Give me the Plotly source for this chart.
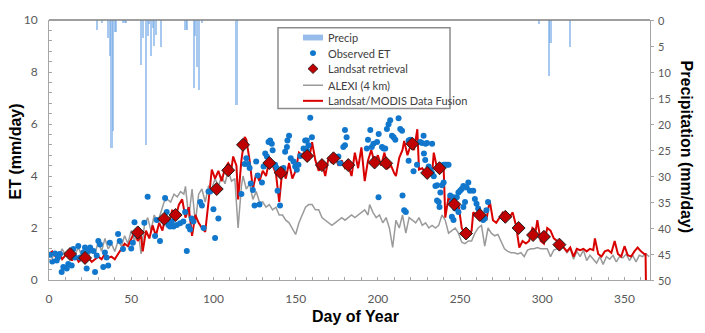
import plotly.graph_objects as go

# ---------------- data ----------------
precip_day = [29, 32, 36, 37, 38, 39, 40, 41, 45, 46, 47, 56, 57, 59, 60, 61, 62, 63, 64, 65, 68,
              83, 84, 88, 89, 90, 91, 93, 114, 298, 304, 305, 317]
precip_mm = [1.9, 0.6, 3.5, 7.0, 24.7, 21.3, 2.3, 2.3, 0.6, 0.6, 0.6, 8.7, 3.5, 24.0, 3.0, 0.8, 7.0, 1.5, 5.0, 2.9, 5.2,
             2.0, 2.0, 13.0, 3.0, 9.0, 13.5, 0.5, 16.3, 0.8, 10.8, 4.4, 5.2]

obs_day = [0.6, 2, 3.7, 4.7, 5.5, 6.7, 7.7, 8.7, 10.8, 11.7, 13.8, 14.8, 15.8, 17.8, 18.9, 20.9, 21.9, 22.9, 23.9, 25,
           27, 28, 29, 30, 31, 33, 34, 35, 36, 37, 42, 43, 45, 50, 51, 52, 53, 58, 60, 64.5, 65.5, 67.5, 70.6, 71.6,
           72.6, 73.6, 74.7, 75.7, 77.7, 79.7, 81.7, 82.8, 83.8, 84.8, 85.8, 86.8, 87.8, 92, 93, 94, 97, 98, 100, 101,
           103, 117, 119, 120, 121, 122, 122.7, 124, 125, 126, 127, 128, 129.5, 130.5, 131.5, 132.5, 133.5, 134.5,
           135.5, 136, 137.5, 138.5, 139, 140.5, 142.6, 143.6, 144.7, 145, 146, 147, 148.7, 149.7, 150.7, 151.7,
           152.8, 154.8, 155.8, 156.8, 157.8, 158.9, 159.9, 156.8, 176, 177, 179, 180, 181, 180, 193.3, 194, 195.4,
           196.3, 197.3, 199.5, 200.5, 200.4, 202.5, 203.5, 204.5, 205.5, 206.5, 207.5, 208.6, 209.6, 210.6, 212.6,
           213.6, 214.7, 215, 216, 217, 218.7, 219.7, 220.7, 225.8, 226.8, 227.8, 229.9, 218.7, 221.7, 223.8, 228.8,
           230.9, 231.9, 232.9, 234, 228, 229, 233, 235, 236, 238, 239, 240, 236, 237, 237.5, 240, 241, 242, 243,
           244, 245, 246, 246.5, 248, 249, 250, 251, 252, 253, 254, 255, 256, 258, 245, 246, 247, 249, 252, 259,
           260, 261, 262, 263, 264, 265, 264, 266, 267]
obs_et = [0.97, 0.71, 1.02, 0.75, 0.87, 1.0, 0.31, 0.5, 0.44, 0.62, 0.56, 1.19, 0.87, 1.31, 0.87, 1.06, 1.25, 0.44, 1.12,
          1.25, 1.12, 0.31, 0.94, 1.5, 1.37, 0.5, 1.06, 0.87, 0.56, 1.43, 1.77, 1.5, 1.19, 1.21, 1.43, 2.22, 1.75, 2.2,
          3.2, 1.69, 2.31, 1.5, 3.15, 2.62, 2.12, 2.06, 2.25, 2.06, 2.12, 2.18, 2.25, 2.62, 1.12, 2.06, 1.94, 2.37,
          2.25, 3.0, 2.87, 2.0, 3.4, 3.4, 2.72, 1.62, 2.37, 3.31, 4.46, 4.68, 4.46, 4.31, 3.71, 3.46, 2.87, 4.56,
          4.02, 2.9, 3.75, 4.37, 4.87, 4.75, 5.31, 5.37, 5.24, 4.99, 4.43, 4.31, 3.43, 2.87, 4.31, 4.93, 5.12, 5.37,
          5.55, 4.68, 4.56, 4.37, 4.24, 4.43, 4.77, 5.06, 5.37, 5.37, 5.18, 6.24, 5.49, 4.99, 4.75, 4.49, 5.12, 5.18,
          5.49, 5.77, 5.06, 5.39, 5.77, 5.12, 5.24, 5.31, 5.62, 3.18, 5.12, 5.06, 5.06, 5.81, 5.99, 6.14, 5.55, 5.49,
          5.39, 6.22, 5.81, 5.74, 3.25, 2.68, 2.62, 5.37, 5.39, 5.31, 5.31, 5.27, 5.55, 5.27, 4.59, 4.18, 4.43, 4.62,
          4.37, 4.24, 4.12, 3.99, 4.87, 5.24, 5.24, 3.62, 3.64, 3.37, 3.64, 3.75, 3.06, 3.0, 2.81, 4.43, 4.43, 4.43,
          4.43, 3.25, 3.0, 3.18, 3.0, 3.18, 3.37, 3.43, 3.5, 3.62, 3.0, 3.56, 3.75, 3.43, 3.43, 2.43, 2.31, 2.75,
          2.62, 2.81, 3.12, 2.93, 2.75, 2.56, 2.5, 2.43, 2.37, 2.31, 2.68, 3.0]

landsat_day = [12.8, 21.9, 54, 70, 77, 102, 109, 118, 134, 141, 157, 166, 173, 182, 198, 205, 221, 230, 237.5,
               246.5, 253.6, 262, 277.5, 285.6, 294.4, 301, 310.4]
landsat_et = [1.0, 0.85, 1.83, 2.35, 2.5, 3.5, 4.22, 5.2, 4.5, 4.12, 4.77, 4.42, 4.68, 4.42, 4.52, 4.49, 5.24,
              4.12, 4.3, 2.91, 1.79, 2.5, 2.43, 2.0, 1.73, 1.66, 1.36]

alexi_day = [0, 2, 4, 6, 8, 10, 12, 14, 16, 18, 20, 22, 24, 26, 28, 30, 32, 34, 36, 38, 40, 42, 44, 46, 48, 50, 52,
             54, 56, 58, 60, 62, 64, 66, 68, 70, 72, 74, 76, 78, 80, 82, 83, 85, 87, 89, 91, 93, 95, 97, 99, 101,
             103, 105, 107, 109, 111, 113, 115, 117, 118, 120, 122, 124, 126, 128, 130, 132, 134, 136, 138, 140,
             142, 144, 146, 148, 150, 152, 154, 156, 158, 160, 162, 164, 166, 168, 170, 172, 174, 176, 178, 180,
             182, 184, 186, 188, 190, 192, 194, 195, 197, 199, 201, 203, 205, 207, 209, 211, 213, 215, 217, 219,
             221, 223, 225, 227, 229, 231, 233, 235, 237, 239, 241, 243, 245, 247, 249, 251, 253, 255, 257, 259,
             261, 263, 265, 267, 269, 271, 273, 275, 277, 279, 281, 283, 285, 287, 289, 291, 293, 295, 297, 299,
             301, 303, 305, 307, 309, 311, 313, 315, 317, 319, 321, 323, 325, 327, 329, 331, 333, 335, 337, 339,
             341, 343, 345, 347, 349, 351, 353, 355, 357, 359, 361, 363, 365]
alexi_et = [1.0, 0.85, 1.1, 0.9, 1.2, 0.95, 1.15, 0.8, 1.0, 1.25, 0.9, 1.1, 0.85, 1.3, 1.0, 1.5, 1.1, 1.6, 1.2, 1.4,
            1.1, 1.5, 1.3, 1.7, 1.4, 1.9, 1.5, 2.0, 1.0, 2.1, 2.4, 1.9, 2.5, 2.2, 2.6, 3.0, 3.1, 3.0, 3.3, 3.2, 3.4,
            3.3, 3.6, 2.4, 3.5, 2.2, 3.3, 3.5, 3.0, 3.6, 3.5, 3.9, 3.6, 4.0, 3.7, 4.2, 3.8, 3.9, 2.0, 3.6, 4.0, 3.5,
            3.7, 3.1, 3.4, 3.0, 3.0, 2.8, 2.9, 2.7, 2.8, 2.5, 2.5, 2.3, 2.2, 2.0, 1.75, 2.2, 2.5, 2.8, 2.9, 2.9, 2.7,
            2.7, 2.4, 2.3, 2.2, 2.1, 2.2, 2.3, 2.4, 2.3, 2.4, 2.5, 2.4, 2.5, 2.6, 2.7, 2.5, 2.9, 2.6, 2.4, 2.5, 2.2,
            2.4, 2.0, 1.25, 2.3, 2.0, 2.5, 1.8, 2.4, 2.3, 2.2, 2.4, 2.1, 2.2, 2.0, 2.1, 2.0, 2.1, 2.5, 2.3, 1.8, 1.9,
            2.0, 1.8, 1.45, 1.4, 1.5, 1.5, 1.8, 2.0, 2.1, 1.3, 2.0, 1.8, 1.7, 1.75, 1.5, 1.2, 1.1, 1.05, 1.05, 1.0,
            1.05, 0.9, 1.15, 1.2, 1.2, 1.25, 1.2, 1.2, 1.2, 0.9, 1.15, 1.2, 1.2, 1.25, 1.05, 1.2, 0.8, 1.1, 0.9,
            1.15, 0.75, 0.95, 0.8, 0.65, 0.9, 0.6, 0.9, 0.8, 0.95, 0.7, 0.9, 0.85, 1.0, 0.75, 0.95, 0.7, 0.95, 0.9,
            1.0, 0.9]

fusion_day = [0, 2, 4, 6, 8, 10, 12, 14, 16, 18, 20, 22, 24, 26, 28, 30, 32, 34, 36, 38, 40, 42, 44, 46, 48, 50, 52,
              54, 56, 57, 59, 61, 63, 65, 67, 69, 71, 73, 75, 77, 79, 81, 83, 85, 87, 89, 91, 93, 95, 97, 99, 101,
              103, 105, 107, 109, 111, 112, 114, 115, 117, 119, 120, 122, 124, 126, 128, 130, 132, 134, 136, 138,
              140, 142, 144, 146, 148, 150, 152, 154, 156, 158, 160, 162, 164, 166, 168, 170, 172, 174, 176, 178,
              180, 182, 184, 186, 188, 190, 192, 194, 196, 198, 200, 202, 204, 206, 208, 210, 211, 213, 215, 216,
              218, 220, 222, 224, 225, 227, 229, 231, 233, 234, 236, 238, 240, 241, 243, 245, 247, 249, 251, 253,
              255, 257, 258, 260, 262, 264, 266, 268, 270, 272, 274, 276, 278, 280, 282, 284, 286, 288, 290, 292,
              294, 296, 297, 299, 301, 303, 305, 307, 309, 311, 313, 315, 317, 319, 321, 323, 325, 327, 329, 331,
              332, 334, 336, 338, 340, 342, 344, 346, 348, 350, 352, 354, 356, 358, 360, 362, 362.8, 363]
fusion_et = [1.0, 1.1, 0.9, 1.05, 0.8, 0.95, 1.0, 0.75, 0.95, 0.7, 0.8, 0.75, 0.85, 0.7, 0.8, 0.9, 0.8, 1.0, 0.85,
             0.9, 0.8, 1.0, 1.2, 1.4, 1.3, 1.6, 1.85, 1.5, 1.7, 1.1, 1.9, 1.6, 2.1, 1.7, 2.2, 1.9, 2.5, 2.2, 2.7,
             2.4, 2.9, 3.1, 2.4, 2.8, 1.7, 2.5, 2.2, 2.0, 1.85, 3.0, 4.25, 3.9, 4.2, 3.8, 4.3, 4.5, 4.3, 4.75, 4.4,
             3.1, 4.6, 5.5, 5.4, 4.6, 3.5, 4.1, 3.8, 4.2, 4.0, 4.6, 4.4, 4.1, 3.0, 4.3, 3.9, 4.5, 3.9, 4.2, 4.9,
             4.8, 5.0, 4.6, 5.3, 4.6, 4.2, 4.5, 4.0, 4.7, 4.5, 4.8, 4.4, 4.6, 4.3, 4.4, 4.0, 4.9, 4.3, 5.1, 3.8,
             4.6, 5.0, 4.5, 4.8, 4.4, 4.9, 4.3, 4.4, 4.1, 4.0, 4.7, 5.0, 5.35, 4.8, 5.2, 5.0, 5.8, 4.25, 4.3, 4.1,
             4.2, 4.1, 4.9, 4.3, 4.2, 4.3, 2.4, 3.2, 3.0, 2.9, 2.9, 2.0, 1.75, 1.7, 1.9, 2.6, 2.5, 2.4, 2.5, 2.3,
             3.05, 2.3, 2.2, 2.4, 2.6, 2.5, 2.4, 2.6, 2.1, 1.25, 1.5, 1.4, 1.5, 2.0, 1.9, 2.3, 1.5, 1.4, 2.0, 1.9,
             1.6, 1.5, 1.35, 1.25, 1.1, 1.25, 0.9, 1.2, 1.15, 1.2, 1.1, 1.2, 1.15, 1.6, 1.0, 0.9, 1.1, 1.15, 1.05,
             1.5, 1.0, 0.9, 1.3, 0.95, 0.9, 1.1, 1.25, 1.1, 1.0, 1.0, 0.0]

x_ticks = [0, 50, 100, 150, 200, 250, 300, 350]
et_ticks = [0, 2, 4, 6, 8, 10]
precip_ticks = [0, 5, 10, 15, 20, 25, 30, 35, 40, 45, 50]
legend_labels = ["Precip", "Observed ET", "Landsat retrieval", "ALEXI (4 km)", "Landsat/MODIS Data Fusion"]

# ---------------- styles ----------------
FONT = "Lato, 'Open Sans', Arial, sans-serif"
TICKCOL = "#595959"
PRECIP_COL = "rgba(120,172,232,0.65)"
OBS_COL = "#1177cc"
LANDSAT_COL = "#c00000"
ALEXI_COL = "#9a9a9a"
FUSION_COL = "#d90000"

# plot area in pixels (for placing the hand-made legend box)
L, R, T, B = 49, 650, 13, 280


def px_x(p):
    return (p - L) / (R - L)


def px_y(p):
    return (B - p) / (B - T)


fig = go.Figure()

fig.add_trace(go.Bar(
    x=precip_day, y=precip_mm, yaxis="y2", name=legend_labels[0],
    marker=dict(color=PRECIP_COL, line=dict(width=0)), width=1.3))

fig.add_trace(go.Scatter(
    x=alexi_day, y=alexi_et, mode="lines", name=legend_labels[3],
    line=dict(color=ALEXI_COL, width=1.5)))

fig.add_trace(go.Scatter(
    x=fusion_day, y=fusion_et, mode="lines", name=legend_labels[4],
    line=dict(color=FUSION_COL, width=2)))

fig.add_trace(go.Scatter(
    x=obs_day, y=obs_et, mode="markers", name=legend_labels[1],
    marker=dict(color=OBS_COL, size=6)))

fig.add_trace(go.Scatter(
    x=landsat_day, y=landsat_et, mode="markers", name=legend_labels[2],
    marker=dict(color=LANDSAT_COL, size=10, symbol="diamond",
                line=dict(color="#202020", width=1))))

fig.update_layout(
    width=705, height=333,
    margin=dict(l=L, r=705 - R, t=T, b=333 - B),
    paper_bgcolor="white", plot_bgcolor="white",
    font=dict(family=FONT, size=12, color=TICKCOL),
    bargap=0,
    showlegend=False,
    xaxis=dict(range=[0, 365.5], tickvals=x_ticks, showgrid=False, zeroline=False,
               showline=True, linecolor="#a6a6a6", linewidth=1,
               ticks="inside", ticklen=3, tickcolor="#a6a6a6",
               minor=dict(dtick=10, ticks="inside", ticklen=3, tickcolor="#a6a6a6"),
               tickfont=dict(size=12, color=TICKCOL), ticklabelstandoff=8),
    yaxis=dict(range=[0, 10], tickvals=et_ticks, showgrid=False, zeroline=False,
               showline=True, linecolor="#a6a6a6", linewidth=1,
               ticks="inside", ticklen=3, tickcolor="#a6a6a6",
               minor=dict(dtick=0.4, ticks="inside", ticklen=3, tickcolor="#a6a6a6"),
               tickfont=dict(size=12, color=TICKCOL), ticklabelstandoff=8),
    yaxis2=dict(range=[50, 0], tickvals=precip_ticks, overlaying="y", side="right",
                showgrid=False, zeroline=False, showline=True, linecolor="#a6a6a6", linewidth=1,
                ticks="outside", ticklen=3, tickcolor="#a6a6a6", showticklabels=False),
)

# right-axis tick labels, left aligned next to the axis
for v in precip_ticks:
    fig.add_annotation(text=str(v), xref="paper", yref="y2", x=px_x(656), y=v,
                       xanchor="left", yanchor="middle", showarrow=False,
                       font=dict(family=FONT, size=11, color=TICKCOL))

# top frame line (precipitation baseline)
fig.add_shape(type="line", xref="paper", yref="paper", x0=0, x1=1, y0=1, y1=1,
              line=dict(color="#7f7f7f", width=1.5))

# ---------------- legend (compact, drawn as shapes + text) ----------------
fig.add_shape(type="rect", xref="paper", yref="paper",
              x0=px_x(278), x1=px_x(450), y0=px_y(104), y1=px_y(21),
              fillcolor="white", line=dict(color="#8c8c8c", width=1.5), layer="above")
rows = [31, 47, 63, 80, 96]
sx0, sx1, sxc, tx = px_x(303), px_x(323), px_x(313), px_x(326)
# Precip swatch
fig.add_shape(type="rect", xref="paper", yref="paper", x0=sx0, x1=sx1,
              y0=px_y(rows[0] + 3), y1=px_y(rows[0] - 3),
              fillcolor="rgba(140,180,232,0.9)", line=dict(width=0), layer="above")
# Observed dot
fig.add_shape(type="circle", xref="paper", yref="paper",
              x0=px_x(310), x1=px_x(316), y0=px_y(rows[1] + 3), y1=px_y(rows[1] - 3),
              fillcolor=OBS_COL, line=dict(width=0), layer="above")
# Landsat diamond
cx, cy = 313, rows[2]
fig.add_shape(type="path", xref="paper", yref="paper",
              path=f"M {px_x(cx - 5)} {px_y(cy)} L {px_x(cx)} {px_y(cy - 5)} "
                   f"L {px_x(cx + 5)} {px_y(cy)} L {px_x(cx)} {px_y(cy + 5)} Z",
              fillcolor=LANDSAT_COL, line=dict(color="#202020", width=0.8), layer="above")
# ALEXI line
fig.add_shape(type="line", xref="paper", yref="paper", x0=sx0, x1=sx1,
              y0=px_y(rows[3]), y1=px_y(rows[3]), line=dict(color=ALEXI_COL, width=1.5), layer="above")
# Fusion line
fig.add_shape(type="line", xref="paper", yref="paper", x0=sx0, x1=sx1,
              y0=px_y(rows[4]), y1=px_y(rows[4]), line=dict(color=FUSION_COL, width=2), layer="above")
for lab, r in zip(legend_labels, rows):
    fig.add_annotation(text=lab, xref="paper", yref="paper", x=tx, y=px_y(r),
                       xanchor="left", yanchor="middle", showarrow=False,
                       font=dict(family=FONT, size=11, color="#404040"))

# ---------------- axis titles ----------------
fig.add_annotation(text="<b>ET (mm/day)</b>", xref="paper", yref="paper", x=px_x(15), y=px_y(148),
                   xanchor="center", yanchor="middle",
                   textangle=-90, showarrow=False, font=dict(family="Arial", size=16, color="black"))
fig.add_annotation(text="<b>Day of Year</b>", xref="paper", yref="paper", x=px_x(355), y=px_y(317),
                   xanchor="center", yanchor="middle",
                   showarrow=False, font=dict(family="Arial", size=16, color="black"))
fig.add_annotation(text="<b>Precipitation (mm/day)</b>", xref="paper", yref="paper", x=px_x(686), y=px_y(143),
                   xanchor="center", yanchor="middle",
                   textangle=90, showarrow=False, font=dict(family="Arial", size=16, color="black"))

fig.write_html("out.html")
